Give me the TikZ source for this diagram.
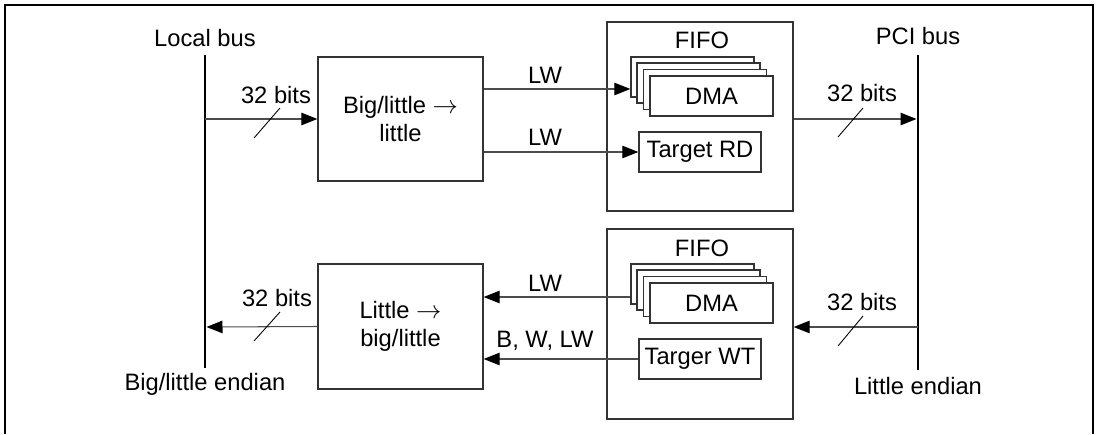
\documentclass[tikz,border=0pt]{standalone}
\usepackage{fontspec}
\setmainfont{Liberation Sans}
\usetikzlibrary{arrows.meta}
\tikzset{
  blk/.style={draw=black!80, line width=0.8pt, fill=white, inner sep=0pt, align=center},
  arr/.style={draw=black!70, line width=0.6pt, -{Triangle[length=0.32cm, width=0.25cm, black]}},
  bus/.style={line width=1.7pt},
  tick/.style={line width=0.5pt},
}
\begin{document}
\begin{tikzpicture}[x=0.02cm, y=-0.02cm, font=\fontsize{13.5}{16}\selectfont]
\useasboundingbox (0,0) rectangle (1100,434);
% frame
\draw[line width=1.4pt] (5,434) -- (5,5) -- (1093,5) -- (1093,434);
% buses
\node (lbus) at (205,38) {Local bus};
\node (pbus) at (918,36) {PCI bus};
\node (lend) at (205,384) {Big/little endian};
\node (pend) at (918,386) {Little endian};
\draw[bus] (205,55) -- (205,368);
\draw[bus] (918,55) -- (918,370);
\coordinate (lb1) at (205,119);
\coordinate (lb2) at (206.5,327);
\coordinate (pb1) at (916.5,119);
\coordinate (pb2) at (918,327);
% upper path
\node[blk, minimum width=3.3cm, minimum height=2.48cm] (bl) at (400.5,119) {Big/little $\rightarrow$\\little};
\node[blk, minimum width=3.72cm, minimum height=3.78cm] (fifo1) at (700,116.5) {};
\node (ff1) at (702,40) {FIFO};
\node[blk, minimum width=2.46cm, minimum height=0.8cm] (dmaA) at (692.5,77) {};
\node[blk, minimum width=2.46cm, minimum height=0.8cm] (dmaB) at (698.5,83) {};
\node[blk, minimum width=2.46cm, minimum height=0.8cm] (dmaC) at (705,89.5) {};
\node[blk, minimum width=2.46cm, minimum height=0.8cm] (dmaD) at (711.5,96) {DMA};
\node[blk, minimum width=2.44cm, minimum height=0.8cm] (trd) at (700,152) {Target RD};
\draw[arr] (lb1) -- (bl.west);
\node (b1) at (276,95) {32 bits};
\draw[tick] (254,138) -- (280,108);
\draw[arr] ([yshift=0.6cm]bl.east) -- ([yshift=0.6cm]bl.east -| dmaA.west);
\node (lw1) at (545,75) {LW};
\draw[arr] (bl.east |- trd.west) -- (trd.west);
\node (lw2) at (545,137) {LW};
\draw[arr] (fifo1.east |- pb1) -- (pb1);
\node (b2) at (862,93) {32 bits};
\draw[tick] (838,137) -- (863,108);
% lower path
\node[blk, minimum width=3.3cm, minimum height=2.5cm] (lb) at (400.5,326.5) {Little $\rightarrow$\\big/little};
\node[blk, minimum width=3.72cm, minimum height=3.8cm] (fifo2) at (700,324) {};
\node (ff2) at (702,248) {FIFO};
\node[blk, minimum width=2.46cm, minimum height=0.8cm] (dmaE) at (692.5,284) {};
\node[blk, minimum width=2.46cm, minimum height=0.8cm] (dmaF) at (698.5,290) {};
\node[blk, minimum width=2.46cm, minimum height=0.8cm] (dmaG) at (705,296.5) {};
\node[blk, minimum width=2.46cm, minimum height=0.8cm] (dmaH) at (711.5,303) {DMA};
\node[blk, minimum width=2.44cm, minimum height=0.8cm] (twt) at (700,359) {Targer WT};
\draw[arr] (lb.west) -- (lb2);
\node (b3) at (277,298) {32 bits};
\draw[tick] (254,341) -- (280,312);
\draw[arr] ([yshift=-0.26cm]dmaE.west) -- ([yshift=-0.26cm]dmaE.west -| lb.east);
\node (lw3) at (545,283) {LW};
\draw[arr] (twt.west) -- (twt.west -| lb.east);
\node (bwl) at (545,341) {B, W, LW};
\draw[arr] (pb2) -- (fifo2.east |- pb2);
\node (b4) at (862,302) {32 bits};
\draw[tick] (838,346) -- (863,316);
\end{tikzpicture}
\end{document}
